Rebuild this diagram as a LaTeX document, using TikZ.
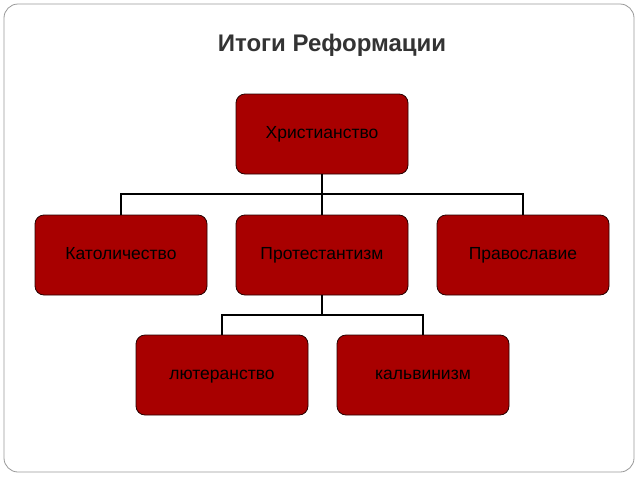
\documentclass[tikz,border=0pt]{standalone}
\usepackage{fontspec}
\setmainfont{Liberation Sans}
\begin{document}
\begin{tikzpicture}[x=1pt,y=-1pt,
  box/.style={draw=black!85!red, line width=0.8pt, fill={rgb,255:red,168;green,0;blue,0}, rounded corners=9pt, minimum width=172pt, minimum height=80pt, font=\fontsize{17.5}{20}\selectfont, text=black, text height=12pt, text depth=3pt},
  conn/.style={draw=black, line width=1.5pt}]
\useasboundingbox (0,0) rectangle (640,480);
\draw[draw=black!40, line width=0.8pt, rounded corners=14pt] (4,4) rectangle (634,472);
\node[font=\bfseries\fontsize{24}{28}\selectfont, text=black!80] (title) at (332,45) {Итоги Реформации};
\node[box] (chr) at (322,134) {Христианство};
\node[box] (kat) at (121,255) {Католичество};
\node[box] (pro) at (322,255) {Протестантизм};
\node[box] (pra) at (523,255) {Православие};
\node[box] (lut) at (222,375) {лютеранство};
\node[box] (kal) at (423,375) {кальвинизм};
\coordinate (j1) at (322,194);
\coordinate (j2) at (322,315);
\draw[conn] (chr.south) -- (j1);
\draw[conn] (kat.north) |- (j1) -| (pra.north);
\draw[conn] (j1) -- (pro.north);
\draw[conn] (pro.south) -- (j2);
\draw[conn] (lut.north) |- (j2) -| (kal.north);
\end{tikzpicture}
\end{document}
